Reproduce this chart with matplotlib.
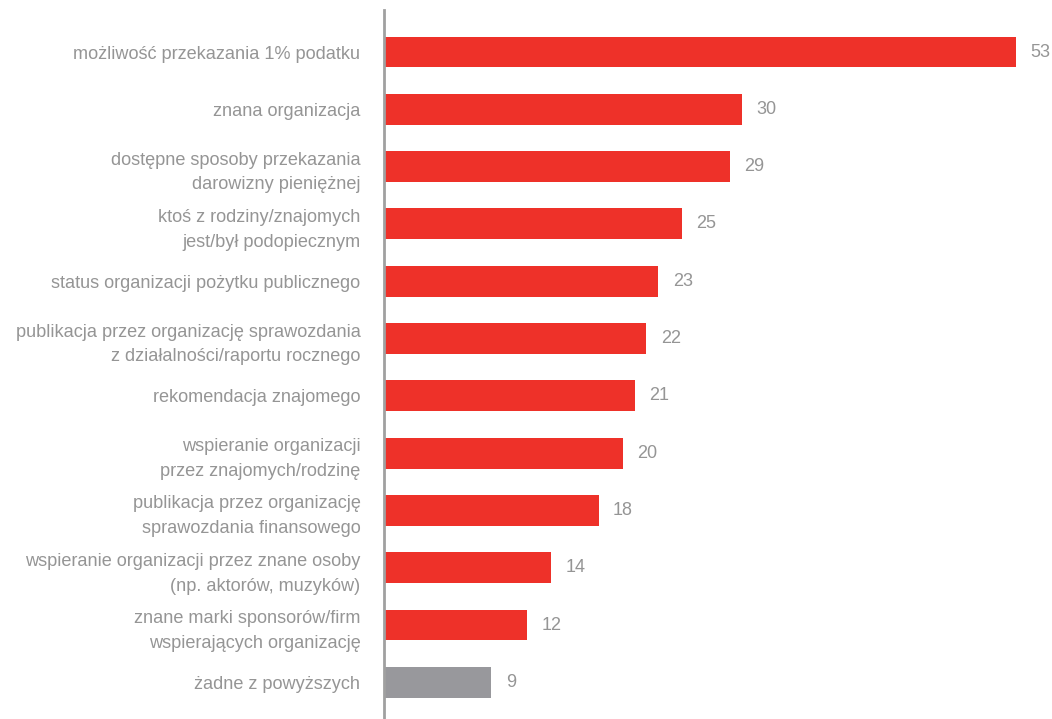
import numpy as np
import matplotlib.pyplot as plt

plt.rcParams['font.family'] = ['Liberation Sans', 'DejaVu Sans']

etykiety = [
    'możliwość przekazania 1% podatku',
    'znana organizacja',
    'dostępne sposoby przekazania\ndarowizny pieniężnej',
    'ktoś z rodziny/znajomych\njest/był podopiecznym',
    'status organizacji pożytku publicznego',
    'publikacja przez organizację sprawozdania\nz działalności/raportu rocznego',
    'rekomendacja znajomego',
    'wspieranie organizacji\nprzez znajomych/rodzinę',
    'publikacja przez organizację\nsprawozdania finansowego',
    'wspieranie organizacji przez znane osoby\n(np. aktorów, muzyków)',
    'znane marki sponsorów/firm\nwspierających organizację',
    'żadne z powyższych',
]
wartosci = [53, 30, 29, 25, 23, 22, 21, 20, 18, 14, 12, 9]

czerwony = '#ee3129'
szary = '#98989c'
kolor_tekstu = '#959595'
kolory = [czerwony] * (len(wartosci) - 1) + [szary]

fig = plt.figure(figsize=(10.52, 7.19), dpi=100)
ax = fig.add_axes([384 / 1052, 0, 1 - 384 / 1052, 709 / 719])

y = np.arange(len(wartosci))
ax.barh(y, wartosci, height=0.54, color=kolory)

for yi, v in zip(y, wartosci):
    ax.text(v + 1.2, yi, str(v), va='center', ha='left', fontsize=13, color=kolor_tekstu)

ax.set_yticks(y)
ax.set_yticklabels(etykiety, fontsize=13.1, color=kolor_tekstu, linespacing=1.6)
ax.tick_params(axis='y', length=0, pad=17)
ax.set_xticks([])
ax.set_xlim(0, 56)
ax.set_ylim(11.64, -0.733)

for s in ['top', 'right', 'bottom']:
    ax.spines[s].set_visible(False)
ax.spines['left'].set_color('#a0a0a0')
ax.spines['left'].set_linewidth(2)

plt.savefig('out.png', dpi=100)
